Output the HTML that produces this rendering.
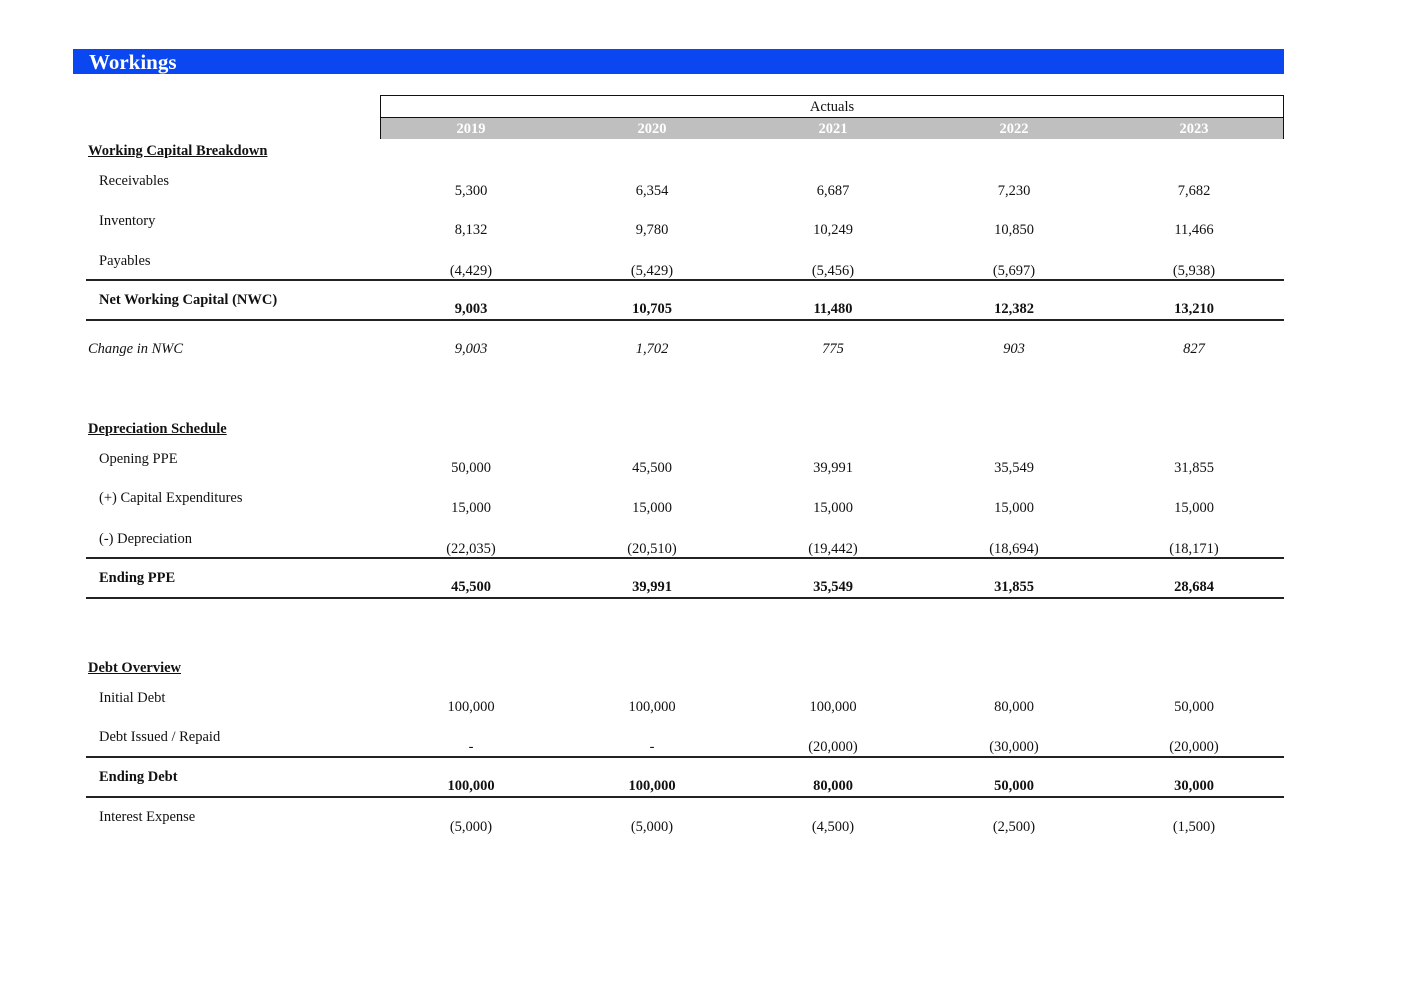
<!DOCTYPE html>
<html><head><meta charset="utf-8"><style>
body{margin:0;width:1414px;height:1000px;background:#fff;position:relative;font-family:"Liberation Serif",serif;font-size:14.5px;color:#111;overflow:hidden}
#w{position:absolute;left:0;top:1px;width:1414px;height:999px}
.a{position:absolute;line-height:16px;white-space:nowrap}
.v{position:absolute;width:140px;text-align:center;line-height:16px;white-space:nowrap}
.b{font-weight:bold}.i{font-style:italic}.u{text-decoration:underline}
.ln{position:absolute;left:86px;width:1198px;height:0;border-top:2px solid #222}
</style></head><body><div id="w">
<div style="position:absolute;left:73px;top:48px;width:1211px;height:25px;background:#0A47F0"></div>
<div class="a b" style="left:89px;top:51px;color:#fff;font-size:21px;line-height:20px">Workings</div>
<div style="position:absolute;left:380px;top:94px;width:902px;height:42px;border:1.5px solid #111"></div>
<div style="position:absolute;left:381px;top:116px;width:902px;height:21px;background:#BFBFBF;border-top:1.5px solid #111"></div>
<div class="a" style="left:380px;width:904px;text-align:center;top:98px">Actuals</div>
<div class="v b" style="left:401px;top:120px;color:#fff">2019</div>
<div class="v b" style="left:582px;top:120px;color:#fff">2020</div>
<div class="v b" style="left:763px;top:120px;color:#fff">2021</div>
<div class="v b" style="left:944px;top:120px;color:#fff">2022</div>
<div class="v b" style="left:1124px;top:120px;color:#fff">2023</div>

<div class="a b u" style="left:88px;top:142px">Working Capital Breakdown</div>
<div class="a" style="left:99px;top:172px">Receivables</div>
<div class="v" style="left:401px;top:182px">5,300</div><div class="v" style="left:582px;top:182px">6,354</div><div class="v" style="left:763px;top:182px">6,687</div><div class="v" style="left:944px;top:182px">7,230</div><div class="v" style="left:1124px;top:182px">7,682</div>
<div class="a" style="left:99px;top:212px">Inventory</div>
<div class="v" style="left:401px;top:221px">8,132</div><div class="v" style="left:582px;top:221px">9,780</div><div class="v" style="left:763px;top:221px">10,249</div><div class="v" style="left:944px;top:221px">10,850</div><div class="v" style="left:1124px;top:221px">11,466</div>
<div class="a" style="left:99px;top:252px">Payables</div>
<div class="v" style="left:401px;top:262px">(4,429)</div><div class="v" style="left:582px;top:262px">(5,429)</div><div class="v" style="left:763px;top:262px">(5,456)</div><div class="v" style="left:944px;top:262px">(5,697)</div><div class="v" style="left:1124px;top:262px">(5,938)</div>
<div class="ln" style="top:278px"></div>
<div class="a b" style="left:99px;top:291px">Net Working Capital (NWC)</div>
<div class="v b" style="left:401px;top:300px">9,003</div><div class="v b" style="left:582px;top:300px">10,705</div><div class="v b" style="left:763px;top:300px">11,480</div><div class="v b" style="left:944px;top:300px">12,382</div><div class="v b" style="left:1124px;top:300px">13,210</div>
<div class="ln" style="top:318px"></div>
<div class="a i" style="left:88px;top:340px">Change in NWC</div>
<div class="v i" style="left:401px;top:340px">9,003</div><div class="v i" style="left:582px;top:340px">1,702</div><div class="v i" style="left:763px;top:340px">775</div><div class="v i" style="left:944px;top:340px">903</div><div class="v i" style="left:1124px;top:340px">827</div>

<div class="a b u" style="left:88px;top:420px">Depreciation Schedule</div>
<div class="a" style="left:99px;top:450px">Opening PPE</div>
<div class="v" style="left:401px;top:459px">50,000</div><div class="v" style="left:582px;top:459px">45,500</div><div class="v" style="left:763px;top:459px">39,991</div><div class="v" style="left:944px;top:459px">35,549</div><div class="v" style="left:1124px;top:459px">31,855</div>
<div class="a" style="left:99px;top:489px">(+) Capital Expenditures</div>
<div class="v" style="left:401px;top:499px">15,000</div><div class="v" style="left:582px;top:499px">15,000</div><div class="v" style="left:763px;top:499px">15,000</div><div class="v" style="left:944px;top:499px">15,000</div><div class="v" style="left:1124px;top:499px">15,000</div>
<div class="a" style="left:99px;top:530px">(-) Depreciation</div>
<div class="v" style="left:401px;top:540px">(22,035)</div><div class="v" style="left:582px;top:540px">(20,510)</div><div class="v" style="left:763px;top:540px">(19,442)</div><div class="v" style="left:944px;top:540px">(18,694)</div><div class="v" style="left:1124px;top:540px">(18,171)</div>
<div class="ln" style="top:556px"></div>
<div class="a b" style="left:99px;top:569px">Ending PPE</div>
<div class="v b" style="left:401px;top:578px">45,500</div><div class="v b" style="left:582px;top:578px">39,991</div><div class="v b" style="left:763px;top:578px">35,549</div><div class="v b" style="left:944px;top:578px">31,855</div><div class="v b" style="left:1124px;top:578px">28,684</div>
<div class="ln" style="top:596px"></div>

<div class="a b u" style="left:88px;top:659px">Debt Overview</div>
<div class="a" style="left:99px;top:689px">Initial Debt</div>
<div class="v" style="left:401px;top:698px">100,000</div><div class="v" style="left:582px;top:698px">100,000</div><div class="v" style="left:763px;top:698px">100,000</div><div class="v" style="left:944px;top:698px">80,000</div><div class="v" style="left:1124px;top:698px">50,000</div>
<div class="a" style="left:99px;top:728px">Debt Issued / Repaid</div>
<div class="v" style="left:401px;top:738px">-</div><div class="v" style="left:582px;top:738px">-</div><div class="v" style="left:763px;top:738px">(20,000)</div><div class="v" style="left:944px;top:738px">(30,000)</div><div class="v" style="left:1124px;top:738px">(20,000)</div>
<div class="ln" style="top:755px"></div>
<div class="a b" style="left:99px;top:768px">Ending Debt</div>
<div class="v b" style="left:401px;top:777px">100,000</div><div class="v b" style="left:582px;top:777px">100,000</div><div class="v b" style="left:763px;top:777px">80,000</div><div class="v b" style="left:944px;top:777px">50,000</div><div class="v b" style="left:1124px;top:777px">30,000</div>
<div class="ln" style="top:795px"></div>
<div class="a" style="left:99px;top:808px">Interest Expense</div>
<div class="v" style="left:401px;top:818px">(5,000)</div><div class="v" style="left:582px;top:818px">(5,000)</div><div class="v" style="left:763px;top:818px">(4,500)</div><div class="v" style="left:944px;top:818px">(2,500)</div><div class="v" style="left:1124px;top:818px">(1,500)</div>
</div></body></html>
